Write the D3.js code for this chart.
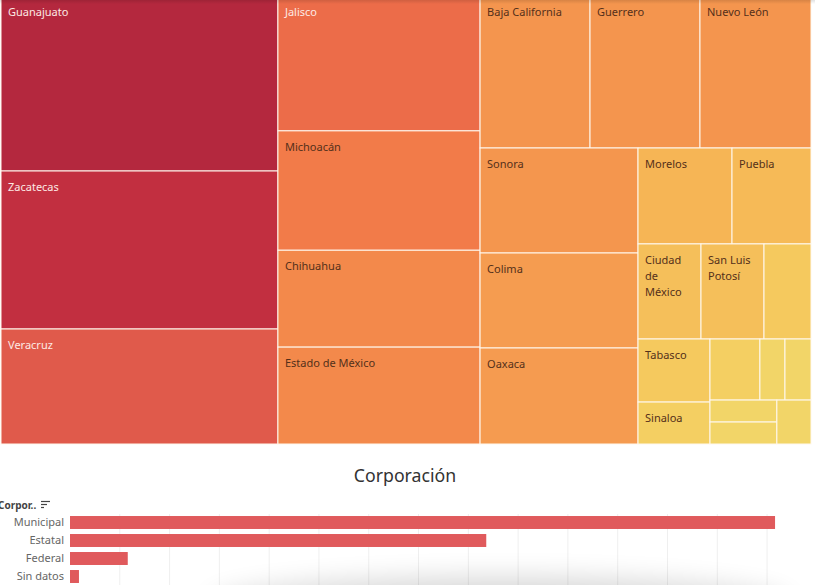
<!DOCTYPE html>
<html lang="es">

<head>
  <meta charset="UTF-8">
  <title>Corporación</title>
  <script src="https://d3js.org/d3.v7.min.js"></script>
  <style>
    * {
      margin: 0;
      padding: 0;
    }

    body {
      background: white;
      overflow: hidden;
    }

    svg {
      display: block;
      font-family: "Noto Sans", sans-serif;
    }
  </style>
</head>

<body>
  <div class="chart"></div>
  <script>
    var width = 815;
    var height = 585;

    // treemap rows: the groups carry no value, they only give the nesting of the layout
    var ids = ['all', 'c1', 'c2', 'c3', 'top', 'low',
      'Guanajuato', 'Zacatecas', 'Veracruz',
      'Jalisco', 'Michoacán', 'Chihuahua', 'Estado de México',
      'Baja California', 'Guerrero', 'Nuevo León',
      'c4', 'c5', 'Sonora', 'Colima', 'Oaxaca',
      'r1', 'r2', 'r3', 'Morelos', 'Puebla',
      'Ciudad de México', 'San Luis Potosí', 'n1',
      'r3a', 'r3b', 'Tabasco', 'Sinaloa',
      'r4', 'r5', 'n2', 'n3', 'n4', 'r6', 'n7', 'n5', 'n6'];
    var parents = ['', 'all', 'all', 'all', 'c3', 'c3',
      'c1', 'c1', 'c1',
      'c2', 'c2', 'c2', 'c2',
      'top', 'top', 'top',
      'low', 'low', 'c4', 'c4', 'c4',
      'c5', 'c5', 'c5', 'r1', 'r1',
      'r2', 'r2', 'r2',
      'r3', 'r3', 'r3a', 'r3a',
      'r3b', 'r3b', 'r4', 'r4', 'r4', 'r5', 'r5', 'r6', 'r6'];
    var values = [0, 0, 0, 0, 0, 0,
      4848, 4377, 3186,
      2727, 2414, 1959, 1959,
      1672, 1672, 1688,
      0, 0, 1659, 1501, 1517,
      0, 0, 0, 902, 758,
      599, 599, 447,
      0, 0, 454, 302,
      0, 0, 305, 153, 159, 0, 150, 147, 147];
    // cells with no label in the picture
    var unlabeled = ['n1', 'n2', 'n3', 'n4', 'n5', 'n6', 'n7'];

    var colorStops = [147, 300, 450, 600, 760, 900, 1500, 1680, 1959, 2414, 2727, 3186, 4377, 4848];
    var colorRange = ['#f2d568', '#f4cf62', '#f5c95e', '#f5bf5a', '#f6ba57', '#f6b555', '#f59c50', '#f4954e',
      '#f3894b', '#f27b49', '#ec6c49', '#e05a4b', '#c22f40', '#b4283e'];

    var corporaciones = ['Municipal', 'Estatal', 'Federal', 'Sin datos'];
    var casos = [708, 418, 58, 9];

    var svg = d3.select('.chart')
      .append('svg')
      .attr('width', width)
      .attr('height', height);

    var defs = svg.append('defs');
    var topShade = defs.append('linearGradient')
      .attr('id', 'topShade')
      .attr('x1', 0).attr('x2', 0).attr('y1', 0).attr('y2', 1);
    topShade.append('stop').attr('offset', 0).attr('stop-color', '#000').attr('stop-opacity', 0.12);
    topShade.append('stop').attr('offset', 1).attr('stop-color', '#000').attr('stop-opacity', 0);
    defs.append('filter')
      .attr('id', 'blur')
      .attr('x', '-30%').attr('y', '-200%').attr('width', '160%').attr('height', '500%')
      .append('feGaussianBlur')
      .attr('stdDeviation', 14);

    /* treemap */
    var color = d3.scaleLinear()
      .domain(colorStops)
      .range(colorRange);

    var table = ids.map(function (id, i) {
      return { id: id, parent: parents[i], value: values[i] };
    });

    var root = d3.stratify()
      .id(function (d) { return d.id; })
      .parentId(function (d) { return d.parent; })(table)
      .sum(function (d) { return d.value; });

    d3.treemap()
      .tile(d3.treemapSliceDice)
      .size([810, 448])
      .round(false)(root);

    // the top of the treemap runs a little past the top of the page
    var cells = svg.append('g')
      .attr('transform', 'translate(1,-4)')
      .selectAll('g')
      .data(root.leaves())
      .enter()
      .append('g')
      .attr('transform', function (d) { return 'translate(' + d.x0 + ',' + d.y0 + ')'; });

    cells.append('rect')
      .attr('width', function (d) { return d.x1 - d.x0; })
      .attr('height', function (d) { return d.y1 - d.y0; })
      .attr('fill', function (d) { return color(d.data.value); })
      .attr('stroke', '#fff8ee')
      .attr('stroke-width', 1);

    var labels = cells.filter(function (d) { return unlabeled.indexOf(d.id) < 0; })
      .append('text')
      .attr('font-size', 11)
      .attr('fill', function (d) { return d.data.value > 2500 ? '#fde9e4' : '#54301a'; });

    // wrap on words, the narrow cells take two or three lines
    labels.each(function (d) {
      var text = d3.select(this);
      var maxWidth = d.x1 - d.x0 - 12;
      var words = d.id.split(' ');
      var line = [];
      var row = 0;
      var tspan = text.append('tspan').attr('x', 7).attr('y', 20);
      words.forEach(function (w) {
        line.push(w);
        tspan.text(line.join(' '));
        if (tspan.node().getComputedTextLength() > maxWidth && line.length > 1) {
          line.pop();
          tspan.text(line.join(' '));
          line = [w];
          row++;
          tspan = text.append('tspan').attr('x', 7).attr('y', 20 + row * 16).text(w);
        }
      });
    });

    svg.append('rect')
      .attr('width', width)
      .attr('height', 4)
      .attr('fill', 'url(#topShade)');

    /* bars */
    svg.append('text')
      .attr('x', 405)
      .attr('y', 482)
      .attr('text-anchor', 'middle')
      .attr('font-size', 17.7)
      .attr('fill', '#333')
      .text('Corporación');

    var xScale = d3.scaleLinear()
      .domain([0, 720])
      .range([70, 787]);

    var yScale = d3.scaleBand()
      .domain(corporaciones)
      .range([513.5, 585.5])
      .paddingInner(0.28)
      .paddingOuter(0.14);

    svg.selectAll('.grid')
      .data(xScale.ticks(15).slice(1))
      .enter()
      .append('line')
      .attr('class', 'grid')
      .attr('x1', function (d) { return xScale(d); })
      .attr('x2', function (d) { return xScale(d); })
      .attr('y1', 514)
      .attr('y2', 585)
      .attr('stroke', '#efefef');

    svg.selectAll('.bar')
      .data(casos)
      .enter()
      .append('rect')
      .attr('class', 'bar')
      .attr('x', xScale(0))
      .attr('y', function (d, i) { return yScale(corporaciones[i]); })
      .attr('width', function (d) { return xScale(d) - xScale(0); })
      .attr('height', yScale.bandwidth())
      .attr('fill', '#e05a5c');

    var yAxis = svg.append('g')
      .attr('transform', 'translate(70,0)')
      .call(d3.axisLeft(yScale).tickSize(0).tickPadding(6));
    yAxis.select('.domain').remove();
    yAxis.selectAll('text')
      .attr('font-family', '"Noto Sans", sans-serif')
      .attr('font-size', 11)
      .attr('fill', '#666');

    // field header, cut by the left edge
    svg.append('text')
      .attr('x', -2)
      .attr('y', 509)
      .attr('font-size', 10)
      .attr('font-weight', 'bold')
      .attr('fill', '#444')
      .text('Corpor..');

    var sortIcon = svg.append('g')
      .attr('stroke', '#444')
      .attr('stroke-width', 1.2);
    [9, 6, 3].forEach(function (w, i) {
      sortIcon.append('line')
        .attr('x1', 41)
        .attr('x2', 41 + w)
        .attr('y1', 501.5 + i * 3)
        .attr('y2', 501.5 + i * 3);
    });

    // soft shadow coming up from the bottom edge
    svg.append('ellipse')
      .attr('cx', 500)
      .attr('cy', 606)
      .attr('rx', 290)
      .attr('ry', 28)
      .attr('fill', '#000')
      .attr('opacity', 0.16)
      .attr('filter', 'url(#blur)');
  </script>

</body>

</html>
